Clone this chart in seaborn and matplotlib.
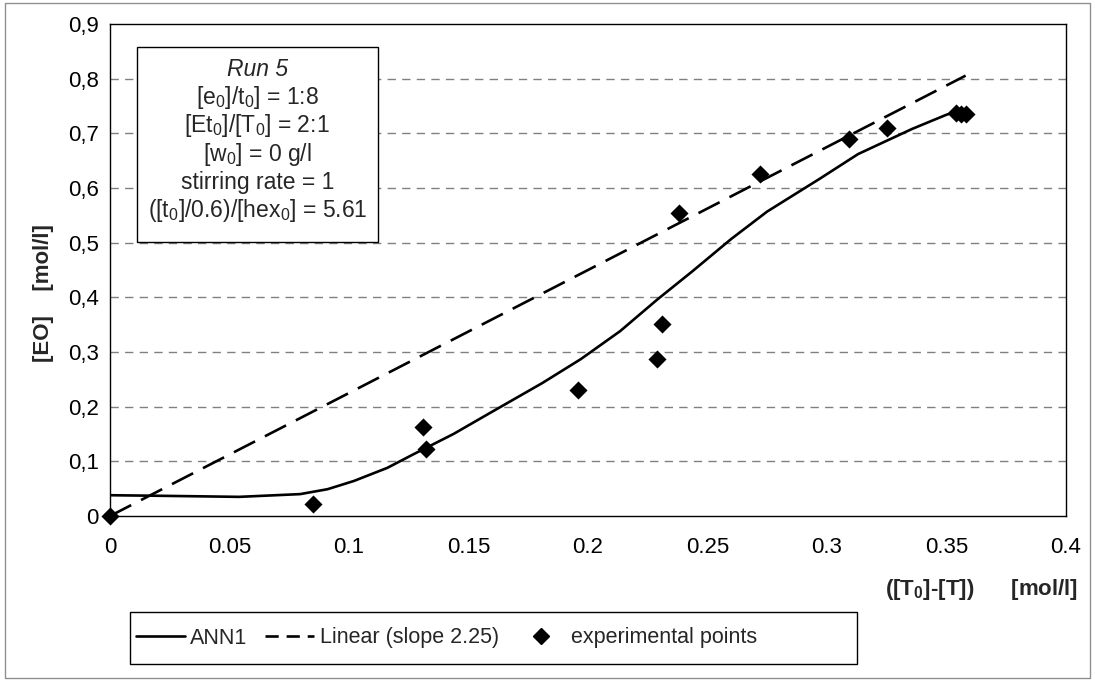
import numpy as np
import pandas as pd
import matplotlib
matplotlib.use("Agg")
import matplotlib.pyplot as plt
import seaborn as sns
from matplotlib.patches import Rectangle
from matplotlib.lines import Line2D

# experimental points
exp_x = [0.0, 0.085, 0.131, 0.132, 0.196, 0.229, 0.231, 0.238, 0.272, 0.309, 0.325, 0.354, 0.356, 0.358]
exp_y = [0.0, 0.022, 0.162, 0.122, 0.231, 0.287, 0.352, 0.555, 0.625, 0.690, 0.710, 0.737, 0.735, 0.735]

# ANN1 model curve
ann_x = [0.0, 0.02, 0.054, 0.0795, 0.091, 0.102, 0.116, 0.127, 0.1437, 0.158, 0.1808,
         0.197, 0.2134, 0.229, 0.2435, 0.260, 0.275, 0.297, 0.313, 0.3356, 0.350, 0.356]
ann_y = [0.038, 0.037, 0.035, 0.040, 0.049, 0.064, 0.088, 0.113, 0.150, 0.186, 0.243,
         0.287, 0.338, 0.396, 0.447, 0.507, 0.557, 0.617, 0.662, 0.708, 0.734, 0.742]

# linear trend, slope 2.25
lin_x = [0.0, 0.358]
lin_y = [0.0, 0.8055]

xticks = [0, 0.05, 0.1, 0.15, 0.2, 0.25, 0.3, 0.35, 0.4]
xtick_labels = ["0", "0.05", "0.1", "0.15", "0.2", "0.25", "0.3", "0.35", "0.4"]
yticks = [0, 0.1, 0.2, 0.3, 0.4, 0.5, 0.6, 0.7, 0.8, 0.9]
ytick_labels = ["0", "0,1", "0,2", "0,3", "0,4", "0,5", "0,6", "0,7", "0,8", "0,9"]

info_lines = ["[e$_0$]/t$_0$] = 1:8", "[Et$_0$]/[T$_0$] = 2:1", "[w$_0$] = 0 g/l",
              "stirring rate = 1", "([t$_0$]/0.6)/[hex$_0$] = 5.61"]

sns.set_style("white")
plt.rcParams['font.family'] = ['Liberation Sans', 'DejaVu Sans']
plt.rcParams['mathtext.fontset'] = 'custom'
plt.rcParams['mathtext.rm'] = 'Liberation Sans'
plt.rcParams['mathtext.it'] = 'Liberation Sans:italic'
plt.rcParams['mathtext.bf'] = 'Liberation Sans:bold'
plt.rcParams['mathtext.default'] = 'regular'

fig = plt.figure(figsize=(10.95, 6.81), dpi=100)
ax = fig.add_axes([0.1005, 0.2423, 0.873, 0.7225])

# grid
for v in yticks[1:-1]:
    ax.axhline(v, color='#808080', lw=1.0, dashes=(6, 4.5), zorder=0)

ann = pd.DataFrame({'x': ann_x, 'y': ann_y})
lin = pd.DataFrame({'x': lin_x, 'y': lin_y})
pts = pd.DataFrame({'x': exp_x, 'y': exp_y})

sns.lineplot(data=ann, x='x', y='y', ax=ax, color='black', lw=1.9, sort=False, zorder=3)
sns.lineplot(data=lin, x='x', y='y', ax=ax, color='black', lw=1.9, zorder=3)
ax.lines[-1].set_dashes((9, 4.2))
sns.scatterplot(data=pts, x='x', y='y', ax=ax, marker='D', s=85, color='black',
                linewidth=0, zorder=4, clip_on=False)

ax.set_xlim(0, 0.4)
ax.set_ylim(0, 0.9)
ax.set_xticks(xticks)
ax.set_xticklabels(xtick_labels)
ax.set_yticks(yticks)
ax.set_yticklabels(ytick_labels)
ax.tick_params(axis='both', direction='out', length=5, width=1, color='black',
               labelsize=16, labelcolor='black')
ax.tick_params(axis='y', pad=3)
ax.tick_params(axis='x', pad=10)
for s in ax.spines.values():
    s.set_color('black')
    s.set_linewidth(1)
ax.set_xlabel('')
ax.set_ylabel('')

# info box
bx0, by1 = 0.028, 0.953
bw, bh = 0.252, 0.397
ax.add_patch(Rectangle((bx0, by1 - bh), bw, bh, transform=ax.transAxes,
                       facecolor='white', edgecolor='black', lw=1, zorder=5))
cx = bx0 + bw / 2
ax.text(cx, by1 - 0.045, "Run 5", style='italic', fontsize=16.5, ha='center', va='center',
        transform=ax.transAxes, zorder=6)
for i, t in enumerate(info_lines):
    ax.text(cx, by1 - 0.045 - 0.0575 * (i + 1), t, fontsize=16.5, ha='center', va='center',
            transform=ax.transAxes, zorder=6)

# axis titles
fig.text(1078 / 1095, 1 - 590 / 681, "([T$_0$]-[T])      [mol/l]", fontsize=16,
         fontweight='bold', ha='right', va='center')
fig.text(43 / 1095, 1 - 293 / 681, "[EO]    [mol/l]", fontsize=16, fontweight='bold',
         rotation=90, ha='center', va='center')

# legend: frame drawn separately (Excel-style wide right margin)
fig.patches.append(Rectangle((130 / 1095, 1 - 664 / 681), 727 / 1095, 52 / 681,
                             transform=fig.transFigure, fill=False,
                             edgecolor='black', lw=1))
handles = [Line2D([], [], color='black', lw=1.9),
           Line2D([], [], color='black', lw=1.9, dashes=(5, 3)),
           Line2D([], [], color='black', marker='D', ms=8, lw=0)]
labels = ["ANN1", "Linear (slope 2.25)", "experimental points"]
leg = fig.legend(handles, labels, ncol=3, loc='center left',
                 bbox_to_anchor=(128 / 1095, 1 - 638 / 681),
                 fontsize=15.5, frameon=False, handlelength=2.3, handletextpad=0.25,
                 columnspacing=0.8, borderpad=0.35, borderaxespad=0)

# outer border
fig.patches.append(Rectangle((0.005, 0.005), 0.99, 0.99, transform=fig.transFigure,
                             fill=False, edgecolor='#909090', lw=1))

fig.savefig('out.png', dpi=100)
